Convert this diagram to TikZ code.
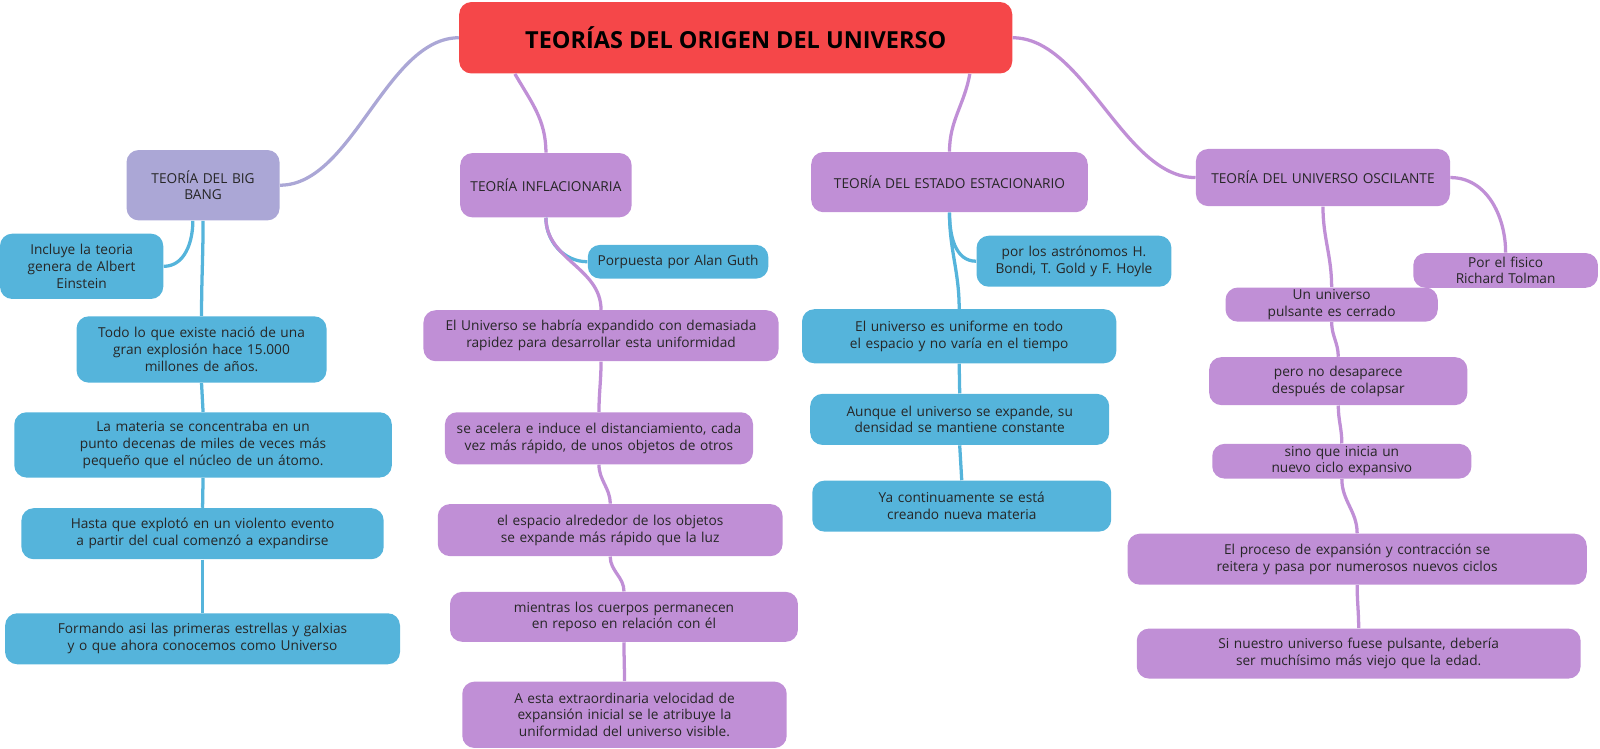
\documentclass[tikz,border=0pt]{standalone}
\usepackage{fontspec}
\setmainfont{Open Sans}
\definecolor{ttl}{HTML}{F54749}
\definecolor{lav}{HTML}{ABA7D6}
\definecolor{blu}{HTML}{55B4DB}
\definecolor{pur}{HTML}{C08FD6}
\begin{document}
\hyphenpenalty=10000
\exhyphenpenalty=10000
\begin{tikzpicture}[x=0.5pt,y=-0.5pt,
 box/.style={rounded corners=6pt,inner sep=1pt,align=center,font=\fontsize{6.7}{8.2}\selectfont,text=black!85},
 B/.style={box,fill=blu},P/.style={box,fill=pur},L/.style={box,fill=lav},
 bl/.style={draw=blu,line width=1.6pt},pl/.style={draw=pur,line width=1.6pt},ll/.style={draw=lav,line width=1.6pt}]
\newcommand\bx[7]{\node[#1,minimum width={(#4-#3)*0.5pt},minimum height={(#6-#5)*0.5pt},text width={(#4-#3-10)*0.5pt}] (#2) at ({(#3+#4)/2},{(#5+#6)/2}) {#7};}
% title
\node[fill=ttl,rounded corners=6pt,minimum width=271pt,minimum height=35pt,font=\fontsize{11.5}{13}\selectfont\bfseries] (t) at (721,37) {TEORÍAS DEL ORIGEN DEL UNIVERSO};
\bx{L}{bb}{124}{274}{147}{216}{TEORÍA DEL BIG\\BANG}
\bx{B}{b1}{0}{160}{229}{293}{Incluye la teoria\\genera de Albert\\Einstein}
\bx{B}{b2}{75}{320}{310}{375}{Todo lo que existe nació de una\\gran explosión hace 15.000\\millones de años.}
\bx{B}{b3}{14}{384}{404}{468}{La materia se concentraba en un punto decenas de miles de veces más pequeño que el núcleo de un átomo.}
\bx{B}{b4}{21}{376}{498}{548}{Hasta que explotó en un violento evento a partir del cual comenzó a expandirse}
\bx{B}{b5}{5}{392}{601}{651}{Formando asi las primeras estrellas y galxias y o que ahora conocemos como Universo}
\bx{P}{in}{451}{619}{150}{213}{TEORÍA INFLACIONARIA}
\bx{B}{i0}{576}{753}{240}{273}{Porpuesta por Alan Guth}
\bx{P}{i1}{415}{763}{304}{354}{El Universo se habría expandido con demasiada rapidez para desarrollar esta uniformidad}
\bx{P}{i2}{436}{738}{404}{455}{se acelera e induce el distanciamiento, cada vez más rápido, de unos objetos de otros}
\bx{P}{i3}{429}{767}{494}{545}{el espacio alrededor de los objetos se expande más rápido que la luz}
\bx{P}{i4}{441}{782}{580}{629}{mientras los cuerpos permanecen en reposo en relación con él}
\bx{P}{i5}{453}{771}{668}{733}{A esta extraordinaria velocidad de expansión inicial se le atribuye la uniformidad del universo visible.}
\bx{P}{es}{795}{1066}{149}{208}{TEORÍA DEL ESTADO ESTACIONARIO}
\bx{B}{e0}{957}{1148}{231}{281}{por los astrónomos H.\\Bondi, T. Gold y F. Hoyle}
\bx{B}{e1}{786}{1094}{303}{356}{El universo es uniforme en todo el espacio y no varía en el tiempo}
\bx{B}{e2}{794}{1087}{386}{436}{Aunque el universo se expande, su densidad se mantiene constante}
\bx{B}{e3}{796}{1089}{471}{521}{Ya continuamente se está creando nueva materia}
\bx{P}{os}{1172}{1421}{146}{202}{TEORÍA DEL UNIVERSO OSCILANTE}
\bx{P}{o0}{1385}{1566}{248}{282}{Por el fisico Richard Tolman}
\bx{P}{o1}{1201}{1409}{282}{315}{Un universo pulsante es cerrado}
\bx{P}{o2}{1185}{1438}{350}{397}{pero no desaparece después de colapsar}
\bx{P}{o3}{1188}{1442}{435}{469}{sino que inicia un nuevo ciclo expansivo}
\bx{P}{o4}{1105}{1555}{523}{573}{El proceso de expansión y contracción se reitera y pasa por numerosos nuevos ciclos}
\bx{P}{o5}{1114}{1549}{616}{665}{Si nuestro universo fuese pulsante, debería ser muchísimo más viejo que la edad.}
% connectors
\draw[ll] (t.west) to[out=180,in=0,looseness=0.8] (bb.east);
\draw[pl] (t.south west)++(55,0) to[out=-60,in=90] (in.north);
\draw[pl] (t.south east)++(-42,0) to[out=-100,in=90] (es.north);
\draw[pl] (t.east) to[out=0,in=180,looseness=0.8] (os.west);
\draw[bl] (bb.south)++(-10,0) to[out=-90,in=0] (b1.east);
\draw[bl] (bb.south) to[out=-90,in=90] (b2.north);
\draw[bl] (b2.south) -- (b3.north);
\draw[bl] (b3.south) -- (b4.north);
\draw[bl] (b4.south) to[out=-90,in=90] (b5.north);
\draw[bl] (in.south) to[out=-90,in=180] (i0.west);
\draw[pl] (in.south) to[out=-90,in=90] (i1.north);
\draw[pl] (i1.south) to[out=-90,in=90] (i2.north);
\draw[pl] (i2.south) to[out=-90,in=90] (i3.north);
\draw[pl] (i3.south) to[out=-90,in=90] (i4.north);
\draw[pl] (i4.south) to[out=-90,in=90] (i5.north);
\draw[bl] (es.south) to[out=-90,in=180] (e0.west);
\draw[bl] (es.south) to[out=-90,in=90] (e1.north);
\draw[bl] (e1.south) -- (e2.north);
\draw[bl] (e2.south) -- (e3.north);
\draw[pl] (os.east) to[out=0,in=90] (o0.north);
\draw[pl] (os.south) to[out=-90,in=90] (o1.north);
\draw[pl] (o1.south) to[out=-90,in=90] (o2.north);
\draw[pl] (o2.south) to[out=-90,in=90] (o3.north);
\draw[pl] (o3.south) to[out=-90,in=90] (o4.north);
\draw[pl] (o4.south) to[out=-90,in=90] (o5.north);
\pgfresetboundingbox
\useasboundingbox (0,0) rectangle (1568,734);
\end{tikzpicture}
\end{document}
